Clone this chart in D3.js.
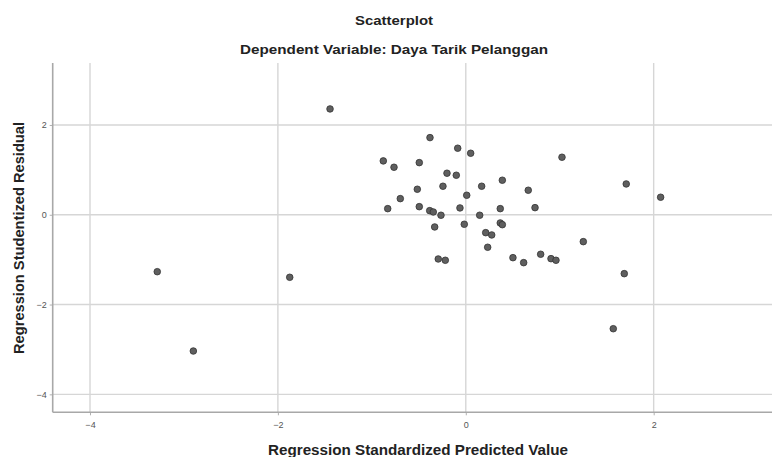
<!DOCTYPE html>
<html>
<head>
<meta charset="utf-8">
<script src="https://cdn.jsdelivr.net/npm/d3@7"></script>
<style>
  html, body { margin: 0; padding: 0; background: #fff; }
  svg { display: block; }
</style>
</head>
<body>
<svg id="chart" width="772" height="457"></svg>
<script>
// Data
const title = "Scatterplot";
const subtitle = "Dependent Variable: Daya Tarik Pelanggan";
const xLabel = "Regression Standardized Predicted Value";
const yLabel = "Regression Studentized Residual";
const xTicks = [-4, -2, 0, 2];
const yTicks = [-4, -2, 0, 2];
const predicted = [
  -0.381, -0.086, 0.052, -0.878, -0.764, -0.495, -0.200, -0.101, 0.389, -0.516,
  -0.243, 0.169, 0.665, -0.697, 0.010, -0.831, -0.495, -0.384, -0.346, -0.264,
  -0.062, 0.367, 0.737, 0.148, -0.331, -0.016, 0.367, 0.389, 0.212, 0.276,
  0.233, -0.293, -0.218, 0.502, 0.616, 0.797, 0.907, 0.960, -1.445, -3.284,
  -1.874, -2.900, 1.024, 1.708, 2.074, 1.251, 1.687, 1.570
];
const residual = [
  1.718, 1.482, 1.370, 1.199, 1.058, 1.161, 0.925, 0.880, 0.769, 0.568,
  0.635, 0.635, 0.546, 0.359, 0.434, 0.136, 0.180, 0.091, 0.062, -0.011,
  0.152, 0.136, 0.158, -0.011, -0.272, -0.212, -0.183, -0.221, -0.399, -0.450,
  -0.724, -0.985, -1.014, -0.956, -1.067, -0.880, -0.978, -1.014, 2.357, -1.268,
  -1.393, -3.035, 1.281, 0.686, 0.390, -0.599, -1.312, -2.538
];

const svg = d3.select("#chart");
const plot = { left: 52.7, top: 63, bottom: 412.3, right: 785.2 };

const x = d3.scaleLinear().domain([-4.397, 3.4]).range([plot.left, plot.right]);
const y = d3.scaleLinear().domain([-4.40, 3.38]).range([plot.bottom, plot.top]);

const font = "'Liberation Sans', Arial, sans-serif";

// Gridlines
const grid = svg.append("g");
grid.selectAll("line.vx").data(xTicks).join("line")
  .attr("x1", d => x(d)).attr("x2", d => x(d))
  .attr("y1", plot.top).attr("y2", plot.bottom)
  .attr("stroke", "#d6d6d6").attr("stroke-width", 1.4);
grid.selectAll("line.hy").data(yTicks).join("line")
  .attr("x1", plot.left).attr("x2", 772)
  .attr("y1", d => y(d)).attr("y2", d => y(d))
  .attr("stroke", "#d6d6d6").attr("stroke-width", 1.4);

// Axes
const xAxis = d3.axisBottom(x).tickValues(xTicks).tickSize(3).tickPadding(6).tickFormat(d3.format("d"));
const yAxis = d3.axisLeft(y).tickValues(yTicks).tickSize(3).tickPadding(3).tickFormat(d3.format("d"));

const gx = svg.append("g").attr("transform", `translate(0,${plot.bottom})`).call(xAxis);
const gy = svg.append("g").attr("transform", `translate(${plot.left},0)`).call(yAxis);
[gx, gy].forEach(g => {
  g.select(".domain").remove();
  g.selectAll(".tick line").attr("stroke", "#b0b0b0");
  g.selectAll(".tick text").attr("fill", "#555").style("font-family", font).style("font-size", "9px");
});

// Axis lines (left + bottom)
svg.append("line").attr("x1", plot.left).attr("x2", plot.left)
  .attr("y1", plot.top).attr("y2", plot.bottom)
  .attr("stroke", "#a8a8a8").attr("stroke-width", 1.6);
svg.append("line").attr("x1", plot.left).attr("x2", 772)
  .attr("y1", plot.bottom).attr("y2", plot.bottom)
  .attr("stroke", "#a8a8a8").attr("stroke-width", 1.6);

// Points
const pts = predicted.map((p, i) => ({ p, r: residual[i] }));
svg.append("g").selectAll("circle").data(pts).join("circle")
  .attr("cx", d => x(d.p)).attr("cy", d => y(d.r)).attr("r", 3.3)
  .attr("fill", "#5f5f5f").attr("stroke", "#333").attr("stroke-width", 0.8);

// Titles
svg.append("text").attr("x", 394).attr("y", 25).attr("text-anchor", "middle")
  .style("font-family", font).style("font-weight", "bold").style("font-size", "13px")
  .attr("fill", "#222").attr("textLength", 78).attr("lengthAdjust", "spacingAndGlyphs")
  .text(title);
svg.append("text").attr("x", 394).attr("y", 54).attr("text-anchor", "middle")
  .style("font-family", font).style("font-weight", "bold").style("font-size", "13px")
  .attr("fill", "#222").attr("textLength", 308).attr("lengthAdjust", "spacingAndGlyphs")
  .text(subtitle);

// Axis titles
svg.append("text").attr("x", 418).attr("y", 455).attr("text-anchor", "middle")
  .style("font-family", font).style("font-weight", "bold").style("font-size", "14px")
  .attr("fill", "#222").attr("textLength", 300).attr("lengthAdjust", "spacingAndGlyphs")
  .text(xLabel);
svg.append("text").attr("transform", "translate(24,238) rotate(-90)").attr("text-anchor", "middle")
  .style("font-family", font).style("font-weight", "bold").style("font-size", "14px")
  .attr("fill", "#222").attr("textLength", 232).attr("lengthAdjust", "spacingAndGlyphs")
  .text(yLabel);
</script>
</body>
</html>
